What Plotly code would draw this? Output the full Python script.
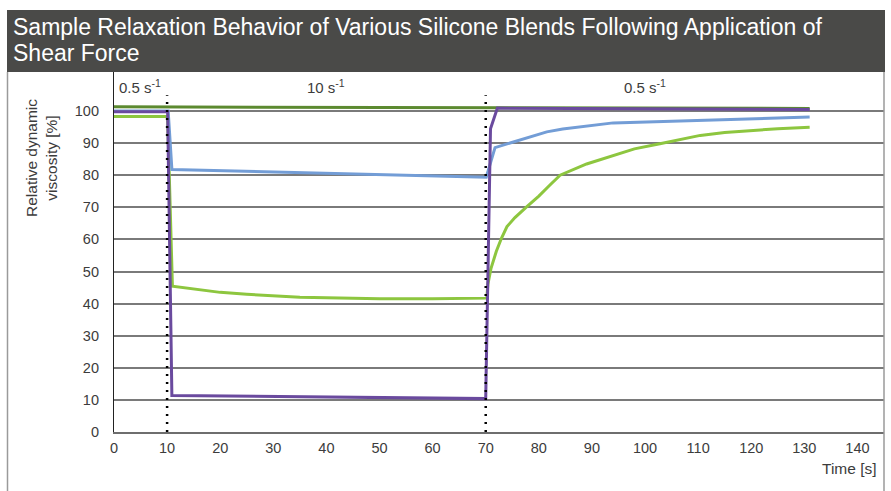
import plotly.graph_objects as go

# ---- data ----
dark_green_t = [0, 74, 131]
dark_green_v = [101.3, 100.9, 100.8]

light_green_t = [0, 10.1, 11.0, 13, 15, 20, 25, 30, 35, 40, 50, 60, 70.2,
                 70.4, 71.0, 72.0, 73.0, 74.0, 75.5, 77.7, 80, 82, 84, 89, 94, 98, 102.8, 106.6, 110.4, 115, 120, 125, 131]
light_green_v = [98.3, 98.3, 45.4, 45.0, 44.6, 43.5, 42.9, 42.4, 42.0, 41.8, 41.5, 41.5, 41.7,
                 46.0, 51.0, 56.3, 60.5, 64.0, 66.8, 70.1, 73.5, 76.8, 80.0, 83.5, 86.2, 88.2, 89.8, 91.1, 92.4, 93.3, 94.0, 94.5, 94.9]

blue_t = [0, 10.2, 10.9, 40, 70.1, 71.75, 75.2, 78, 81.5, 84.5, 87.8, 91.5, 94, 100.3, 106.6, 110.4, 120, 131]
blue_v = [100.0, 100.0, 81.8, 80.7, 79.4, 88.6, 90.3, 91.9, 93.5, 94.4, 95.0, 95.9, 96.3, 96.6, 96.9, 97.1, 97.6, 98.1]

purple_t = [0, 10.1, 10.9, 70.0, 70.9, 72.2, 131]
purple_v = [99.8, 99.8, 11.4, 10.4, 94.5, 100.9, 100.5]

shear_change_t = [10, 70]
rate_labels = ["0.5 s<sup>-1</sup>", "10 s<sup>-1</sup>", "0.5 s<sup>-1</sup>"]
rate_label_t = [0.5, 40, 100]
rate_label_anchor = ["left", "center", "center"]

x_ticks = list(range(0, 141, 10))
y_ticks = list(range(0, 101, 10))

title_lines = ["Sample Relaxation Behavior of Various Silicone Blends Following Application of",
               "Shear Force"]
y_title = "Relative dynamic<br>viscosity [%]"
x_title = "Time [s]"

# ---- figure ----
W, H = 891, 491
L, R, T, B = 114, 7, 72, 59
pw, ph = W - L - R, H - T - B

def px_x(p):
    return (p - L) / pw

def px_y(p):
    return (H - B - p) / ph

FONT = "Liberation Sans, Arial, sans-serif"
TXT = "#3c3c3c"

fig = go.Figure()
series = [
    (dark_green_t, dark_green_v, "#5c8a30"),
    (light_green_t, light_green_v, "#8dc63f"),
    (blue_t, blue_v, "#739dd6"),
    (purple_t, purple_v, "#6a4a9e"),
]
for t, v, c in series:
    fig.add_trace(go.Scatter(x=t, y=v, mode="lines", line=dict(color=c, width=3),
                             showlegend=False, hoverinfo="skip"))

shapes = []
for t in shear_change_t:
    shapes.append(dict(type="line", xref="x", yref="y", x0=t, x1=t, y0=0, y1=104.9,
                       line=dict(color="black", width=2.5, dash="2px,6px"), layer="above"))
# title bar
shapes.append(dict(type="rect", xref="paper", yref="paper", x0=px_x(7), x1=px_x(885), y0=px_y(72), y1=px_y(10),
                   fillcolor="#4a4a48", line=dict(width=0), layer="above"))
# box borders
shapes.append(dict(type="line", xref="paper", yref="paper", x0=px_x(7.5), x1=px_x(7.5), y0=px_y(72), y1=px_y(495),
                   line=dict(color="#9a9a9a", width=1.5)))
shapes.append(dict(type="line", xref="paper", yref="paper", x0=px_x(884), x1=px_x(884), y0=px_y(72), y1=px_y(495),
                   line=dict(color="#9a9a9a", width=1.5)))

annotations = []
annotations.append(dict(xref="paper", yref="paper", x=px_x(11), y=px_y(27), text=title_lines[0], showarrow=False,
                        xanchor="left", yanchor="middle", font=dict(family=FONT, size=23, color="white")))
annotations.append(dict(xref="paper", yref="paper", x=px_x(11), y=px_y(53), text=title_lines[1], showarrow=False,
                        xanchor="left", yanchor="middle", font=dict(family=FONT, size=23, color="white")))
annotations.append(dict(xref="paper", yref="paper", x=px_x(41), y=px_y(158), text=y_title, showarrow=False,
                        textangle=-90, xanchor="center", yanchor="middle",
                        font=dict(family=FONT, size=15.5, color=TXT)))
annotations.append(dict(xref="paper", yref="paper", x=px_x(879), y=px_y(468), text=x_title, showarrow=False,
                        xanchor="right", yanchor="middle", font=dict(family=FONT, size=15.5, color=TXT)))
for txt, t, a in zip(rate_labels, rate_label_t, rate_label_anchor):
    annotations.append(dict(xref="x", yref="paper", x=t, y=px_y(86.5), text=txt, showarrow=False,
                            xanchor=a, yanchor="middle", font=dict(family=FONT, size=15, color=TXT)))

fig.update_layout(
    width=W, height=H,
    margin=dict(l=L, r=R, t=T, b=B, pad=0),
    paper_bgcolor="white", plot_bgcolor="white",
    shapes=shapes, annotations=annotations,
    font=dict(family=FONT, size=14, color=TXT),
    xaxis=dict(range=[0, 145], tickvals=x_ticks, showgrid=False, zeroline=False,
               showline=True, linecolor="#6e6e6e", linewidth=2, ticks="", ticklabelstandoff=2,
               tickfont=dict(family=FONT, size=14.5, color=TXT)),
    yaxis=dict(range=[0, ph / 3.21], tickvals=y_ticks, showgrid=True, gridcolor="#7a7a7a", gridwidth=1.5,
               zeroline=False, showline=True, linecolor="#222222", linewidth=1.2, ticks="",
               ticklabelstandoff=11, tickfont=dict(family=FONT, size=14.5, color=TXT)),
)

fig.write_html("out.html", config={"displayModeBar": False})
# remove the browser's default body margin so the figure sits at the page origin
with open("out.html", "r", encoding="utf-8") as f:
    html = f.read()
html = html.replace("<body>", '<body style="margin:0;padding:0;">', 1)
with open("out.html", "w", encoding="utf-8") as f:
    f.write(html)
